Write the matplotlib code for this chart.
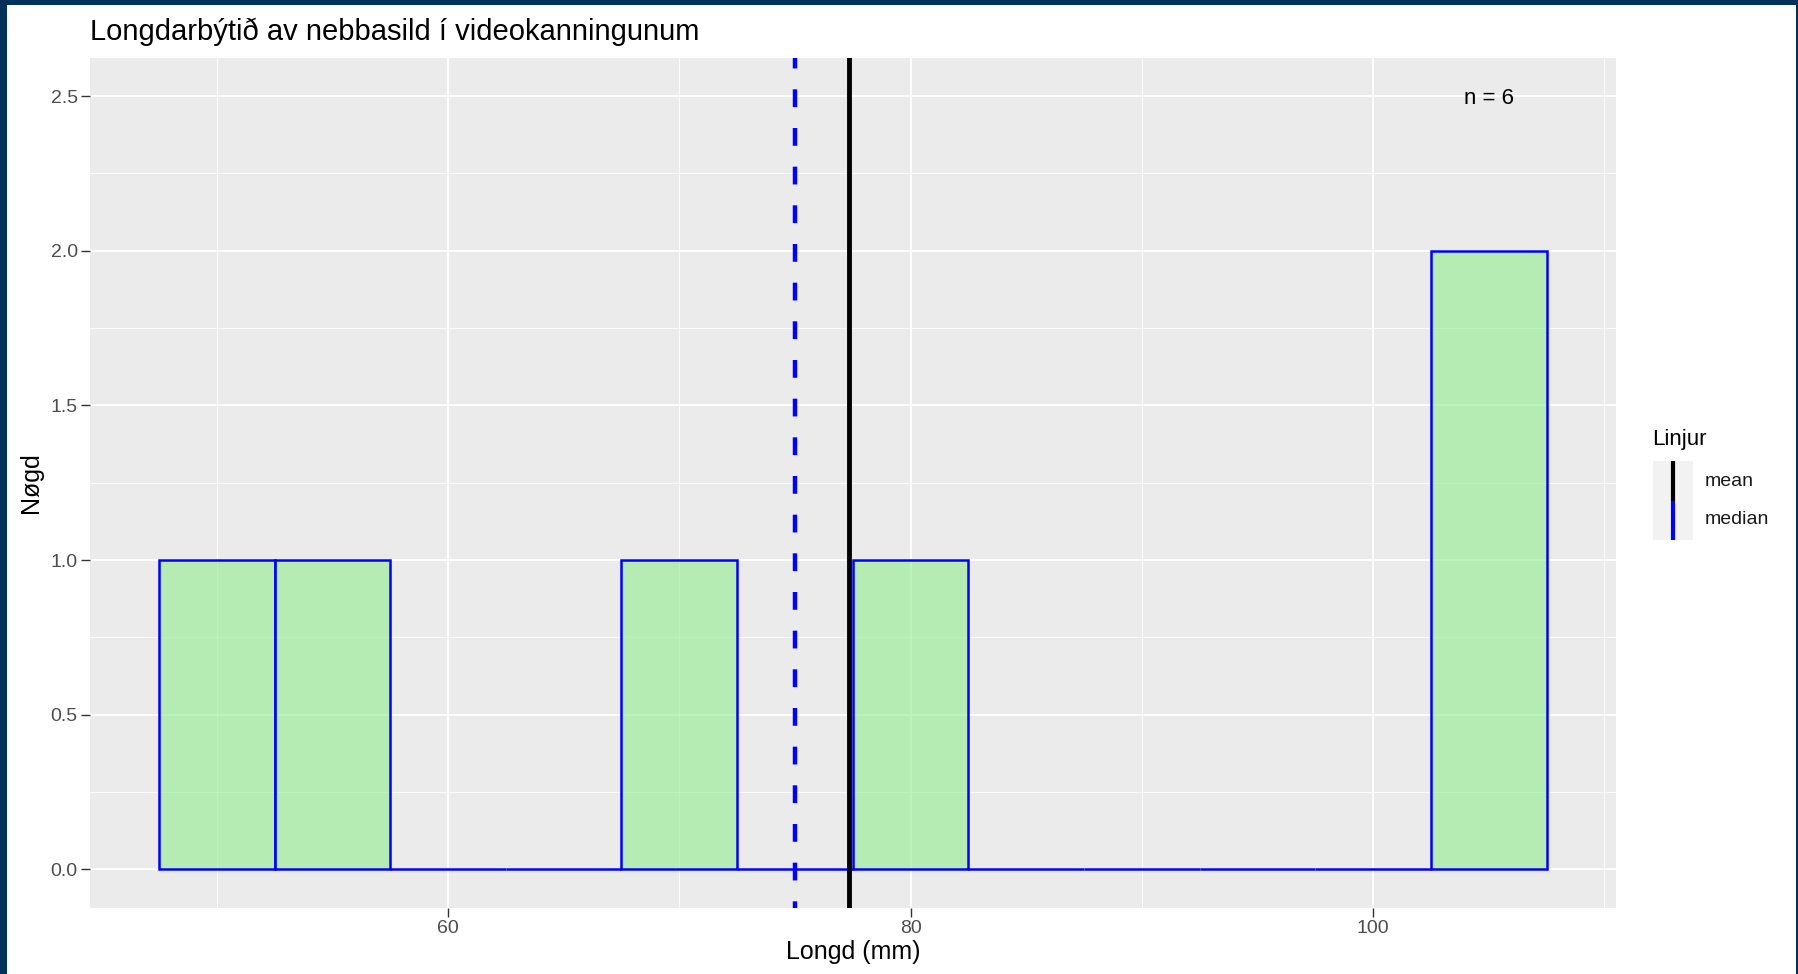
import numpy as np
import matplotlib.pyplot as plt
from matplotlib.patches import Rectangle
from matplotlib.ticker import MultipleLocator

# longdir (mm) av nebbasild úr videokanningini
longdir = [50, 55, 70, 80, 104, 105]
bin_breidd = 5

x_ticks = [60, 80, 100]
y_ticks = [0.0, 0.5, 1.0, 1.5, 2.0, 2.5]

heiti = "Longdarbýtið av nebbasild í videokanningunum"
linjur = ["mean", "median"]
linju_litir = ["black", "blue"]

plt.rcParams['font.family'] = ['Liberation Sans', 'DejaVu Sans']

W, H = 1798, 974
fig = plt.figure(figsize=(W / 100, H / 100), dpi=100, facecolor='#04315A')
# hvíti bakgrundurin inni í ramminum
fig.add_artist(Rectangle((7 / W, 0), (1796 - 7) / W, (H - 5) / H,
                         transform=fig.transFigure, facecolor='white',
                         edgecolor='none', zorder=-10))

left, right, top, bottom = 89.5, 1616, 57.5, 908
ax = fig.add_axes([left / W, 1 - bottom / H, (right - left) / W, (bottom - top) / H])
ax.set_facecolor('#EBEBEB')
for s in ax.spines.values():
    s.set_visible(False)
ax.set_axisbelow(True)

midal = np.mean(longdir)
median = np.median(longdir)

bins = np.arange(min(longdir) - bin_breidd / 2, max(longdir) + bin_breidd, bin_breidd)
ax.hist(longdir, bins=bins, facecolor=(0.565, 0.933, 0.565, 0.6),
        edgecolor='blue', linewidth=1.8, zorder=2)

ax.axvline(median, color='blue', linewidth=3.2, linestyle=(2.5, (4, 4.7)), zorder=3)
ax.axvline(midal, color='black', linewidth=3.5, zorder=4)

ax.text(105, 2.5, f"n = {len(longdir)}", ha='center', va='center_baseline',
        fontsize=16, color='black', zorder=5)

ax.set_xlim(44.5, 110.5)
ax.set_ylim(-0.125, 2.625)
ax.set_xticks(x_ticks)
ax.set_yticks(y_ticks)
ax.set_yticklabels([f"{v:.1f}" for v in y_ticks])
ax.xaxis.set_minor_locator(MultipleLocator(10))
ax.yaxis.set_minor_locator(MultipleLocator(0.25))
ax.grid(which='major', color='white', linewidth=1.3)
ax.grid(which='minor', color='white', linewidth=0.6)
ax.tick_params(which='major', length=6.5, width=1.0, color='#333333',
               labelsize=14, labelcolor='#4D4D4D', pad=2)
ax.tick_params(which='minor', length=0)

ax.set_title(heiti, loc='left', fontsize=21, pad=12.5, color='black')
ax.set_xlabel("Longd (mm)", fontsize=18)
ax.set_ylabel("Nøgd", fontsize=18)
ax.xaxis.label.set_va('center')
ax.yaxis.label.set_va('center')
ax.xaxis.set_label_coords(0.5, (bottom - 952) / (bottom - top))
ax.yaxis.set_label_coords((31 - left) / (right - left), 0.5)

# legenda
fig.text(1652.5 / W, 1 - 440 / H, "Linjur", fontsize=16, ha='left', va='center')
lax = fig.add_axes([1652.5 / W, 1 - 540 / H, 40 / W, 79 / H])
lax.set_facecolor('#F2F2F2')
for s in lax.spines.values():
    s.set_visible(False)
lax.set_xticks([])
lax.set_yticks([])
lax.set_xlim(0, 1)
lax.set_ylim(0, 2)
for i, (nav, lit) in enumerate(zip(linjur, linju_litir)):
    y0 = 1 - i
    lax.plot([0.5, 0.5], [y0, y0 + 1], color=lit, linewidth=3, solid_capstyle='butt')
    fig.text(1705 / W, 1 - (482 + 38 * i) / H, nav, fontsize=14, color='#1A1A1A',
             ha='left', va='center')

fig.savefig('out.png', dpi=100, facecolor=fig.get_facecolor())
